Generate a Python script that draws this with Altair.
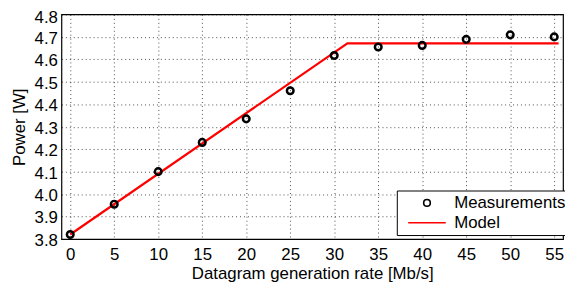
import altair as alt
import pandas as pd

rate = [0, 5, 10, 15, 20, 25, 30, 35, 40, 45, 50, 55]
power = [3.82, 3.955, 4.10, 4.23, 4.335, 4.46, 4.617, 4.655, 4.662, 4.689, 4.709, 4.70]

model_rate = [0, 31.5, 55.5]
model_power = [3.82, 4.671, 4.671]

series = ["Measurements", "Model"]

meas = pd.DataFrame({"rate": rate, "power": power, "series": series[0]})
model = pd.DataFrame({"rate": model_rate, "power": model_power, "series": series[1]})

legend = alt.Legend(
    title=None,
    orient="none",
    legendX=339,
    legendY=178,
    strokeColor="black",
    fillColor="white",
    padding=4,
    symbolOffset=18,
    symbolStrokeWidth=1.6,
    labelFontSize=17,
    labelFont="Liberation Sans",
    labelColor="black",
    labelOffset=19,
    rowPadding=2,
    cornerRadius=0,
)

color = alt.Color("series:N", scale=alt.Scale(domain=series, range=["black", "red"]), legend=legend)
shape = alt.Shape("series:N", scale=alt.Scale(domain=series, range=["circle", "M-4,0H4"]), legend=legend)
size = alt.Size("series:N", scale=alt.Scale(domain=series, range=[45, 90]), legend=legend)

x = alt.X(
    "rate:Q",
    scale=alt.Scale(domain=[-1, 56], nice=False, zero=False),
    axis=alt.Axis(title="Datagram generation rate [Mb/s]", values=list(range(0, 56, 5))),
)
y = alt.Y(
    "power:Q",
    scale=alt.Scale(domain=[3.8, 4.8], nice=False, zero=False),
    axis=alt.Axis(
        title="Power [W]",
        values=[3.8, 3.9, 4.0, 4.1, 4.2, 4.3, 4.4, 4.5, 4.6, 4.7, 4.8],
        format=".1f",
        labelOffset={"condition": {"test": "datum.value >= 4.79", "value": 3.5}, "value": 1.5},
    ),
)

line = alt.Chart(model).mark_line(strokeWidth=2.2, color="red").encode(x=x, y=y)
pts = alt.Chart(meas).mark_point(filled=False, strokeWidth=2.5, opacity=1).encode(
    x=x, y=y, color=color, shape=shape, size=size
)

chart = (
    alt.layer(line, pts)
    .properties(width=507, height=227, padding={"left": 54, "top": 5, "right": 2, "bottom": 44})
    .configure(autosize=alt.AutoSizeParams(type="none"))
    .configure_view(stroke="black", strokeWidth=1.2)
    .configure_axis(
        grid=True,
        gridColor="black",
        gridDash=[1, 3],
        gridOpacity=0.7,
        gridWidth=1,
        ticks=False,
        domain=False,
        labelFont="Liberation Sans",
        labelFontSize=17,
        labelColor="black",
        titleFont="Liberation Sans",
        titleFontSize=17,
        titleFontWeight="normal",
        titleColor="black",
    )
    .configure_axisX(labelPadding=8, titlePadding=3)
    .configure_axisY(labelPadding=4, titlePadding=6)
)

chart.save("out.html", embed_options={"renderer": "svg", "actions": False})
